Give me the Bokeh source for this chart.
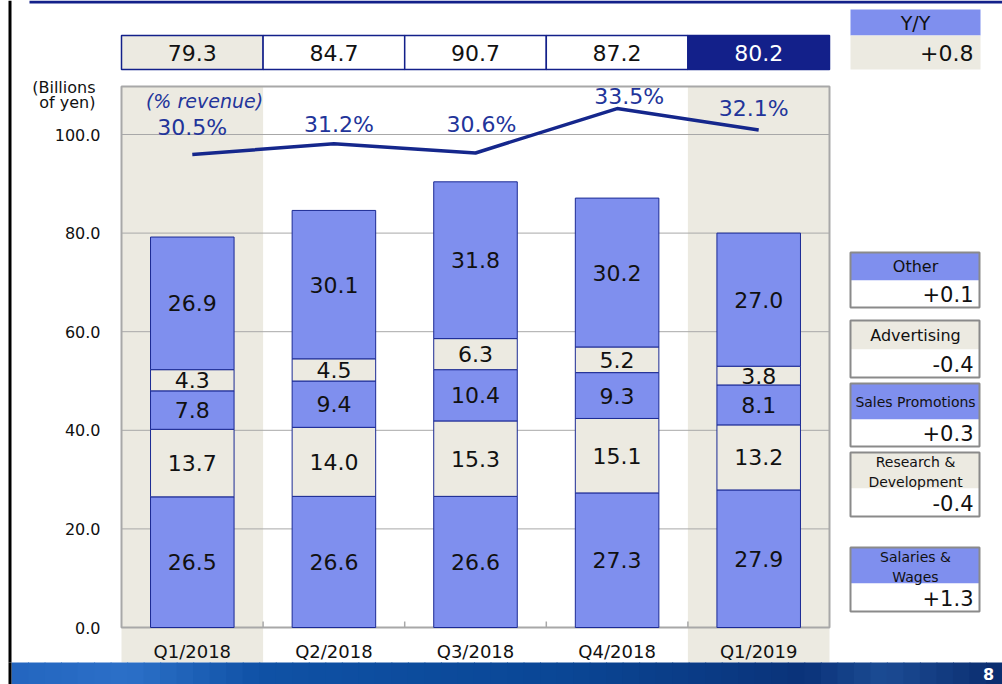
import numpy as np
from bokeh.plotting import figure
from bokeh.models import ColumnDataSource, Range1d, BoxAnnotation, Label
from bokeh.core.properties import value
from bokeh.embed import file_html
from bokeh.resources import INLINE

# ---------------- data ----------------
quarters = ["Q1/2018", "Q2/2018", "Q3/2018", "Q4/2018", "Q1/2019"]
salaries = [26.5, 26.6, 26.6, 27.3, 27.9]
research = [13.7, 14.0, 15.3, 15.1, 13.2]
sales_promo = [7.8, 9.4, 10.4, 9.3, 8.1]
advertising = [4.3, 4.5, 6.3, 5.2, 3.8]
other = [26.9, 30.1, 31.8, 30.2, 27.0]
totals = [79.3, 84.7, 90.7, 87.2, 80.2]
pct_revenue = [30.5, 31.2, 30.6, 33.5, 32.1]
yoy_total = "+0.8"
yoy_items = [["Other"], ["Advertising"], ["Sales Promotions"],
             ["Research &", "Development"], ["Salaries &", "Wages"]]
yoy_values = ["+0.1", "-0.4", "+0.3", "-0.4", "+1.3"]
y_ticks = [0, 20, 40, 60, 80, 100]
shaded_quarters = ["Q1/2018", "Q1/2019"]

# ---------------- style ----------------
FONT = "DejaVu Sans"
BLUE = "#7F8FEE"
BEIGE = "#ECEAE1"
NAVY = "#1B2A94"
DARKNAVY = "#13208A"
PCT_COLOR = "#22349A"
GRAY = "#A8A8A8"

W, H = 1002, 684
# plot area in canvas pixels
P_LEFT, P_TOP, P_RIGHT, P_BOTTOM = 121, 86, 829, 627
N = len(quarters)
PX_X = (P_RIGHT - P_LEFT) / N          # pixels per category
PX_Y = (P_BOTTOM - 134) / 100.0         # pixels per billion yen
PX_P = 15.3                             # pixels per % point
P_REF_V, P_REF_Y = 30.5, 154            # % value and its pixel row

x_range = Range1d(-P_LEFT / PX_X, N + (W - P_RIGHT) / PX_X)
y_range = Range1d(-(H - P_BOTTOM) / PX_Y, P_BOTTOM / PX_Y)
pct_range = Range1d(P_REF_V - (H - P_REF_Y) / PX_P, P_REF_V + P_REF_Y / PX_P)

p = figure(width=W, height=H, output_backend="svg", toolbar_location=None,
           x_range=x_range, y_range=y_range, min_border=0,
           background_fill_color="white", border_fill_color="white")
p.extra_y_ranges = {"pct": pct_range}
p.outline_line_color = None
p.axis.visible = False
p.grid.visible = False


def sx(X):
    return X


def sy(Y):
    return H - Y


def box(l, r, t, b, fill, line=None, lw=1, level="annotation",
        lu="screen", ru="screen", tu="screen", bu="screen"):
    p.add_layout(BoxAnnotation(left=l, right=r, top=t, bottom=b,
                               left_units=lu, right_units=ru,
                               top_units=tu, bottom_units=bu,
                               fill_color=fill, fill_alpha=1.0 if fill else 0,
                               line_color=line, line_alpha=1.0, line_width=lw,
                               level=level))


def label(X, Y, text, size, align="center", color="#111111", style="normal",
          xu="screen", xval=None):
    p.add_layout(Label(x=sx(X) if xval is None else xval, y=sy(Y),
                       x_units=xu, y_units="screen", text=text,
                       text_font=FONT, text_font_size=size,
                       text_font_style=style, text_align=align,
                       text_baseline="middle", text_color=color))


xc = [i + 0.5 for i in range(N)]   # category centres on the x scale

# shaded columns (extend below the axis down to the footer)
for q in shaded_quarters:
    i = quarters.index(q)
    box(i, i + 1, sy(P_TOP), sy(662), BEIGE, level="image", lu="data", ru="data")

# plot-area frame
box(0, N, sy(P_TOP), 0, None, line=GRAY, lw=2, level="underlay",
    lu="data", ru="data", bu="data")

# horizontal grid lines
p.segment(x0=[0] * len(y_ticks), x1=[N] * len(y_ticks), y0=y_ticks, y1=y_ticks,
          line_color=GRAY, line_width=1, level="underlay")
# small ticks at category boundaries on the category axis
bounds = list(range(1, N))
p.segment(x0=bounds, x1=bounds, y0=[0] * len(bounds),
          y1=[6 / PX_Y] * len(bounds), line_color=GRAY, line_width=1.5,
          level="underlay")

# y tick labels (value axis)
p.text(x=[0] * len(y_ticks), y=y_ticks, text=[f"{v:.1f}" for v in y_ticks],
       x_offset=-21, text_align="right", text_baseline="middle",
       text_font=value(FONT), text_font_size="16px", text_color="#111111")
# category labels
p.text(x=xc, y=[0] * N, text=quarters, y_offset=24, text_align="center",
       text_baseline="middle", text_font=value(FONT), text_font_size="18px",
       text_color="#111111")

# stacked bars
src = ColumnDataSource(dict(x=xc, salaries=salaries, research=research,
                            sales_promo=sales_promo, advertising=advertising,
                            other=other))
stackers = ["salaries", "research", "sales_promo", "advertising", "other"]
p.vbar_stack(stackers, x="x", width=0.59, source=src,
             fill_color=[BLUE, BEIGE, BLUE, BEIGE, BLUE],
             line_color=NAVY, line_width=1)

stack = np.array([salaries, research, sales_promo, advertising, other])
mids = np.cumsum(stack, axis=0) - stack / 2
lab_src = ColumnDataSource(dict(
    x=[x for row in stack for x in xc],
    y=mids.flatten().tolist(),
    t=[f"{v:.1f}" for v in stack.flatten()]))
p.text(x="x", y="y", text="t", source=lab_src, text_align="center",
       text_baseline="middle", text_font=value(FONT), text_font_size="22px",
       text_color="#111111")

# % revenue line
pct_src = ColumnDataSource(dict(x=xc, v=pct_revenue,
                                t=[f"{v:.1f}%" for v in pct_revenue],
                                dx=[0, 5, 6, 12, -5],
                                dy=[-27, -19, -28, -12, -22]))
p.line(x="x", y="v", source=pct_src, y_range_name="pct", line_color="#15278C",
       line_width=3.5)
p.text(x="x", y="v", text="t", source=pct_src, y_range_name="pct",
       x_offset="dx", y_offset="dy", text_align="center", text_baseline="middle",
       text_font=value(FONT), text_font_size="22px", text_color=PCT_COLOR)
label(204, 100, "(% revenue)", "19px", color=PCT_COLOR, style="italic")

# y axis unit
label(95, 87, "(Billions", "16px", align="right")
label(95, 102, "of yen)", "16px", align="right")

# totals row
for i, (q, t) in enumerate(zip(quarters, totals)):
    last = i == N - 1
    fill = DARKNAVY if last else (BEIGE if q in shaded_quarters else "white")
    box(i, i + 1, sy(35), sy(69), fill, line=DARKNAVY, lw=1.5, lu="data", ru="data")
    label(0, 52, f"{t:.1f}", "22px", color="white" if last else "#111111",
          xu="data", xval=xc[i])

# Y/Y total
box(sx(850), sx(980), sy(9), sy(35), BLUE)
box(sx(850), sx(980), sy(35), sy(69), BEIGE)
label(915, 22, "Y/Y", "19px")
label(973, 52, yoy_total, "22px", align="right")

# Y/Y per item boxes
geo = [(252, 280, 307), (320, 349, 377), (383, 419, 446), (452, 488, 516), (547, 583, 611)]
hfill = [BLUE, BEIGE, BLUE, BEIGE, BLUE]
hsize = ["16px", "16px", "14px", "14px", "14px"]
for (t, hb, b), names, val, fc, fs in zip(geo, yoy_items, yoy_values, hfill, hsize):
    box(sx(850), sx(979), sy(t), sy(hb), fc)
    box(sx(850), sx(979), sy(hb), sy(b), "white")
    box(sx(850), sx(979), sy(t), sy(b), None, line="#8A8A8A", lw=2)
    if len(names) == 1:
        label(915, (t + hb) / 2, names[0], fs)
    else:
        label(915, t + 9.5, names[0], fs)
        label(915, t + 29.5, names[1], fs)
    label(973, (hb + b) / 2, val, "21px", align="right")

# page decorations: top rule, left rule and footer band
box(sx(29), sx(1002), sy(0), sy(3), "#13208A")
box(sx(8), sx(11), sy(0), sy(662), "black")
stops = [(0.0, (0x24, 0x66, 0xC0)), (0.12, (0x2C, 0x70, 0xC8)),
         (0.25, (0x10, 0x52, 0xA6)), (0.55, (0x0A, 0x47, 0x96)),
         (0.8, (0x0B, 0x33, 0x7A)), (0.88, (0x1C, 0x4C, 0x94)),
         (1.0, (0x0A, 0x2C, 0x6E))]
n = 60
for k in range(n):
    f = (k + 0.5) / n
    for (f0, a), (f1, b) in zip(stops[:-1], stops[1:]):
        if f0 <= f <= f1:
            w = (f - f0) / (f1 - f0)
            c = [int(a[j] + (b[j] - a[j]) * w) for j in range(3)]
            break
    col = "#%02x%02x%02x" % tuple(c)
    x0 = 11 + (W - 11) * k / n
    x1 = 11 + (W - 11) * (k + 1) / n + 1
    box(sx(x0), sx(x1), sy(662), sy(H + 2), col)
box(sx(8), sx(11), sy(662), sy(H + 2), "black")
label(988, 673, "8", "16px", color="white", style="bold")

open("out.html", "w").write(file_html(p, INLINE))
